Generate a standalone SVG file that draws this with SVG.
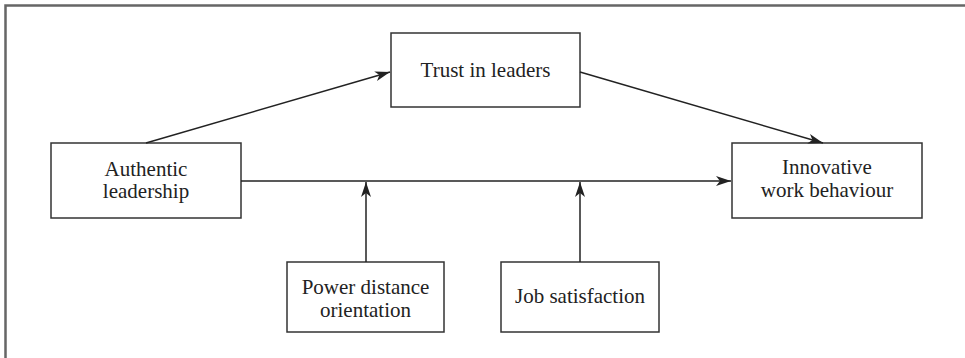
<svg xmlns="http://www.w3.org/2000/svg" width="965" height="358" viewBox="0 0 965 358">
<style>
.box{fill:#fff;stroke:#333;stroke-width:1.5}
.lbl{font-family:"Liberation Serif","Times New Roman",serif;font-size:21px;fill:#222;text-anchor:middle}
.con{stroke:#222;stroke-width:1.5;fill:none;marker-end:url(#ah)}
.frame{stroke:#666;stroke-width:2.5;fill:none}
</style>
<defs>
<marker id="ah" markerWidth="16" markerHeight="10" refX="15" refY="5" orient="auto" markerUnits="userSpaceOnUse">
<path d="M0,0 L15,5 L0,10 L4,5 Z" fill="#222"/>
</marker>
</defs>
<rect width="965" height="358" fill="#fff"/>
<path class="frame" d="M5.5,360 V5.5 H967"/>
<g id="trust"><rect class="box" x="391" y="33" width="189" height="74"/><text class="lbl" x="485.5" y="77">Trust in leaders</text></g>
<g id="authentic"><rect class="box" x="51" y="143" width="190" height="75"/><text class="lbl" x="146" y="176">Authentic</text><text class="lbl" x="146" y="198">leadership</text></g>
<g id="innovative"><rect class="box" x="732" y="143" width="190" height="75"/><text class="lbl" x="827" y="174">Innovative</text><text class="lbl" x="827" y="197">work behaviour</text></g>
<g id="power"><rect class="box" x="287" y="262" width="157" height="70"/><text class="lbl" x="365.5" y="294">Power distance</text><text class="lbl" x="365.5" y="317">orientation</text></g>
<g id="job"><rect class="box" x="501" y="262" width="158" height="70"/><text class="lbl" x="580" y="303">Job satisfaction</text></g>
<g id="connectors">
<line class="con" x1="146" y1="143" x2="390" y2="72"/>
<line class="con" x1="580" y1="72" x2="823" y2="143"/>
<line class="con" x1="241" y1="181" x2="731" y2="181"/>
<line class="con" x1="366" y1="262" x2="366" y2="182"/>
<line class="con" x1="580" y1="262" x2="580" y2="182"/>
</g>
</svg>
